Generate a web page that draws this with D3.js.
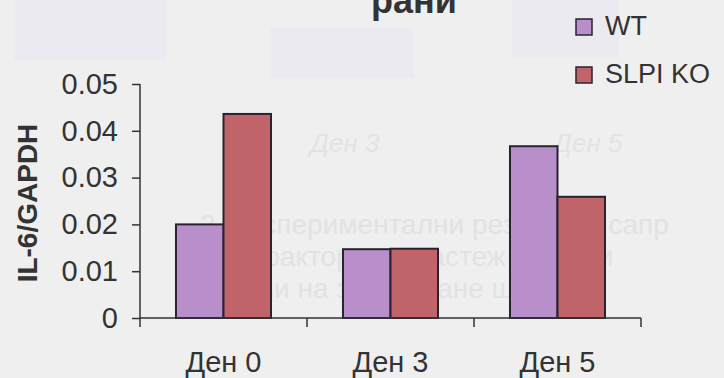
<!DOCTYPE html>
<html>
<head>
<meta charset="utf-8">
<script src="https://cdn.jsdelivr.net/npm/d3@7"></script>
<style>
  body { margin: 0; background: #efefef; overflow: hidden; }
  text { font-family: "Liberation Sans", Arial, sans-serif; }
</style>
</head>
<body>
<div id="container"></div>
<script>
/* DATA */
const days = ["Ден 0", "Ден 3", "Ден 5"];
const groups = ["WT", "SLPI KO"];
const wtValues = [0.020, 0.0147, 0.0367];
const koValues = [0.0436, 0.0148, 0.0259];
const yTicks = [0, 0.01, 0.02, 0.03, 0.04, 0.05];
const colors = ["#b88fcb", "#c0646a"];

/* SIZES */
const width = 724, height = 378;
const plot = { left: 140, right: 641, top: 84, bottom: 318 };

const svg = d3.select("#container")
  .append("svg")
  .attr("width", width)
  .attr("height", height);

// faint show-through of the scanned page
const bg = svg.append("g");
bg.selectAll("rect")
  .data([[14, 0, 152, 60], [270, 28, 143, 50], [512, 0, 107, 58]])
  .join("rect")
  .attr("x", d => d[0]).attr("y", d => d[1])
  .attr("width", d => d[2]).attr("height", d => d[3])
  .attr("fill", "#eaeaf0");
bg.selectAll("text.ghost")
  .data([["Ден 3", 345], ["Ден 5", 588]])
  .join("text")
  .attr("class", "ghost")
  .attr("x", d => d[1]).attr("y", 152)
  .attr("text-anchor", "middle")
  .attr("font-style", "italic")
  .attr("font-size", 26)
  .attr("fill", "#e3e3e3")
  .text(d => d[0]);
bg.selectAll("text.para")
  .data(["2. Експериментални резултати сапр",
         "към фактори на растеж в прени",
         "стадии на зарастване ши, хэ"])
  .join("text")
  .attr("class", "para")
  .attr("x", 200)
  .attr("y", (d, i) => 234 + i * 32)
  .attr("font-family", "Liberation Serif, serif")
  .attr("font-size", 28)
  .attr("fill", "#e2e2e2")
  .text(d => d);

/* SCALES */
const x0 = d3.scaleBand()
  .domain(days)
  .range([plot.left, plot.right])
  .paddingInner(0.431)
  .paddingOuter(0.2155);

const xEdge = d3.scaleBand()
  .domain(days)
  .range([plot.left, plot.right]);

const x1 = d3.scaleBand()
  .domain(groups)
  .range([0, x0.bandwidth()]);

const y = d3.scaleLinear()
  .domain([0, 0.05])
  .range([plot.bottom, plot.top]);

/* BARS */
const rows = days.map((d, i) => ({ day: d, vals: [wtValues[i], koValues[i]] }));

svg.append("g")
  .selectAll("g")
  .data(rows)
  .join("g")
  .attr("transform", d => `translate(${x0(d.day)},0)`)
  .selectAll("rect")
  .data(d => d.vals.map((v, j) => ({ key: groups[j], v, j })))
  .join("rect")
  .attr("x", d => x1(d.key))
  .attr("y", d => y(d.v))
  .attr("width", x1.bandwidth())
  .attr("height", d => y(0) - y(d.v))
  .attr("fill", d => colors[d.j])
  .attr("stroke", "#2b2230")
  .attr("stroke-width", 2);

/* Y AXIS */
const yAxis = svg.append("g")
  .attr("transform", `translate(${plot.left},0)`)
  .call(d3.axisLeft(y)
    .tickValues(yTicks)
    .tickSize(8)
    .tickSizeOuter(0)
    .tickPadding(14)
    .tickFormat(d => d === 0 ? "0" : d3.format(".2f")(d)));
yAxis.select(".domain").remove();
yAxis.selectAll("line").attr("stroke", "#333").attr("stroke-width", 1.5);
yAxis.selectAll("text")
  .attr("font-size", 29)
  .attr("fill", "#333")
  .attr("font-family", "Liberation Sans, Arial, sans-serif");

svg.append("line")
  .attr("x1", plot.left).attr("x2", plot.left)
  .attr("y1", y(0.05)).attr("y2", y(0) + 9)
  .attr("stroke", "#333").attr("stroke-width", 1.5);

/* X AXIS */
svg.append("line")
  .attr("x1", plot.left).attr("x2", plot.right)
  .attr("y1", y(0)).attr("y2", y(0))
  .attr("stroke", "#333").attr("stroke-width", 1.5);

svg.append("g")
  .selectAll("line")
  .data(days.slice(1).map(d => xEdge(d)).concat([plot.right]))
  .join("line")
  .attr("x1", d => d).attr("x2", d => d)
  .attr("y1", y(0)).attr("y2", y(0) + 9)
  .attr("stroke", "#333").attr("stroke-width", 1.5);

svg.append("g")
  .selectAll("text")
  .data(days)
  .join("text")
  .attr("x", d => x0(d) + x0.bandwidth() / 2)
  .attr("y", 372)
  .attr("text-anchor", "middle")
  .attr("font-size", 29)
  .attr("fill", "#333")
  .text(d => d);

/* AXIS TITLE */
svg.append("text")
  .attr("transform", `translate(37,203) rotate(-90)`)
  .attr("text-anchor", "middle")
  .attr("font-size", 28)
  .attr("font-weight", "bold")
  .attr("fill", "#333")
  .text("IL-6/GAPDH");

/* CHART TITLE (cut at the top of the scan) */
svg.append("text")
  .attr("x", 414)
  .attr("y", 13)
  .attr("text-anchor", "middle")
  .attr("font-size", 36)
  .attr("font-weight", "bold")
  .attr("fill", "#333")
  .text("рани");

/* LEGEND */
const legend = svg.append("g")
  .selectAll("g")
  .data(groups)
  .join("g")
  .attr("transform", (d, i) => `translate(576,${19 + i * 48})`);

legend.append("rect")
  .attr("width", 16).attr("height", 16)
  .attr("fill", (d, i) => colors[i])
  .attr("stroke", "#2b2230")
  .attr("stroke-width", 1.5);

legend.append("text")
  .attr("x", 29)
  .attr("y", 16)
  .attr("font-size", 27)
  .attr("fill", "#333")
  .text(d => d);
</script>
</body>
</html>
